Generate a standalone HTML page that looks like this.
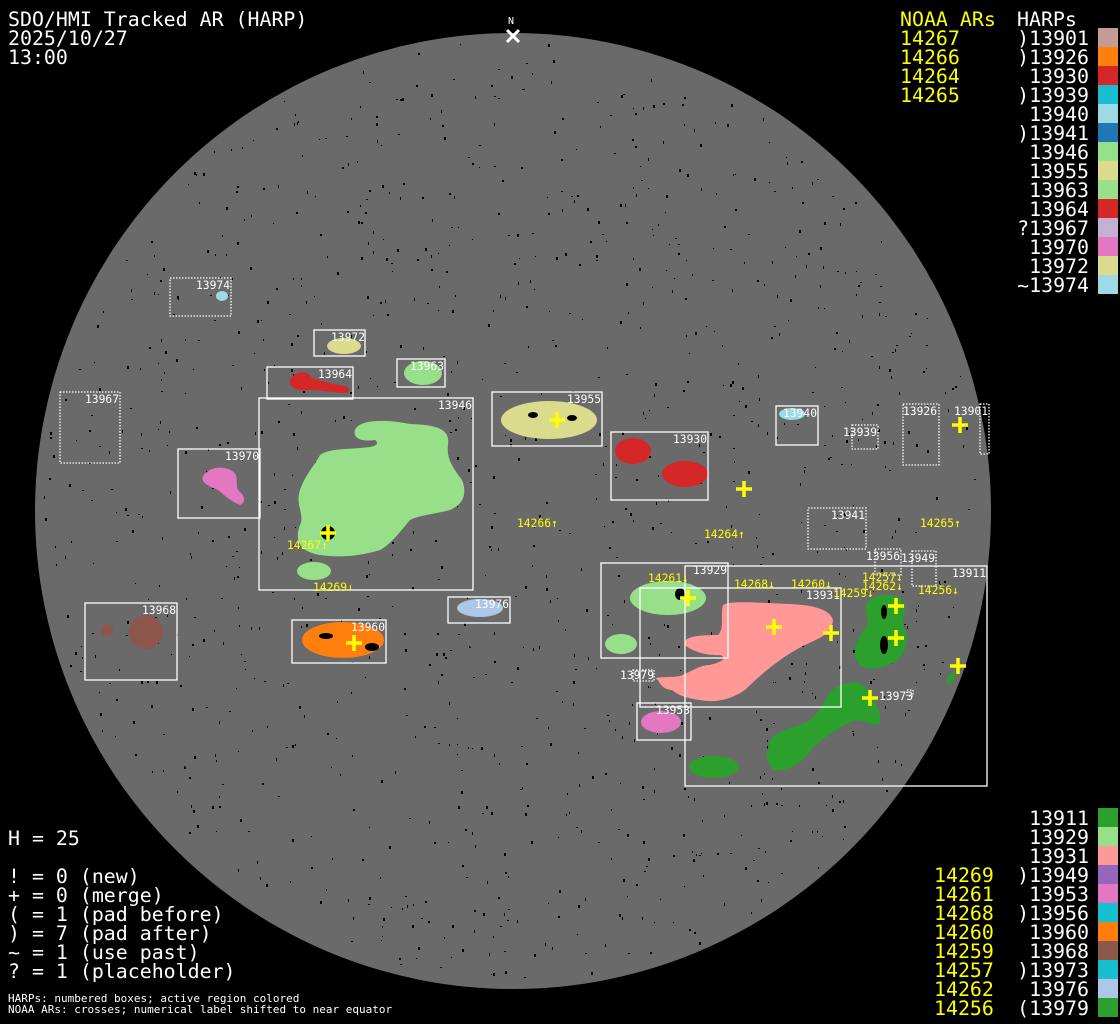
<!DOCTYPE html>
<html><head><meta charset="utf-8"><style>
html,body{margin:0;padding:0;background:#000;width:1120px;height:1024px;overflow:hidden}
svg{display:block}
.t{font-family:"DejaVu Sans Mono","Liberation Mono",monospace;font-size:19.9px;fill:#fff}
.y{fill:#ffff00}
.s{font-family:"DejaVu Sans Mono","Liberation Mono",monospace;font-size:11.3px;fill:#fff}
.sy{font-family:"DejaVu Sans Mono","Liberation Mono",monospace;font-size:11.3px;fill:#ffff00}
.b{fill:none;stroke:#fff;stroke-width:1.3}
.d{fill:none;stroke:#fff;stroke-width:1.3;stroke-dasharray:1.5 1.5}
.x{stroke:#ffff00;stroke-width:3.5;fill:none}
</style></head><body>
<svg width="1120" height="1024" xmlns="http://www.w3.org/2000/svg">
<rect width="1120" height="1024" fill="#000"/>
<circle cx="513" cy="511" r="478" fill="#6a6a6a"/>
<g id="dots" fill="#000"></g>
<ellipse cx="222" cy="296" rx="6" ry="5" fill="#9edae5"/>
<ellipse cx="344" cy="346" rx="17" ry="8" fill="#dbdb8d"/>
<path d="M290,380 C295,370 308,370 312,378 C320,380 330,384 345,386 C352,388 350,394 342,393 C330,392 320,390 310,390 C300,392 288,388 290,380Z" fill="#d62728"/>
<ellipse cx="423" cy="373" rx="19" ry="12" fill="#98df8a"/>
<path d="M355,430 C360,418 390,420 410,424 C440,425 450,430 448,445 C446,460 455,470 462,480 C468,495 462,505 450,510 C435,514 420,515 410,520 C400,532 390,545 380,550 C360,556 340,558 320,555 C300,552 294,540 300,525 C305,515 295,505 300,490 C305,475 315,465 320,455 C330,448 345,450 370,447 C375,446 380,444 375,440 C360,442 353,438 355,430Z" fill="#98df8a"/>
<ellipse cx="314" cy="571" rx="17" ry="9" fill="#98df8a"/>
<path d="M203,476 C210,465 230,465 236,475 C238,483 235,488 240,492 C246,497 245,503 240,505 C232,502 225,496 218,490 C208,486 200,482 203,476Z" fill="#e377c2"/>
<ellipse cx="549" cy="420" rx="48" ry="19" fill="#dbdb8d"/>
<ellipse cx="633" cy="451" rx="18" ry="13" fill="#d62728"/>
<ellipse cx="685" cy="474" rx="23" ry="13" fill="#d62728"/>
<ellipse cx="792" cy="414" rx="13" ry="6" fill="#9edae5"/>
<ellipse cx="107" cy="630" rx="6" ry="6" fill="#8c564b"/>
<ellipse cx="146" cy="632" rx="17" ry="17" fill="#8c564b"/>
<ellipse cx="343" cy="640" rx="41" ry="18" fill="#ff7f0e"/>
<ellipse cx="480" cy="608" rx="23" ry="9" fill="#aec7e8"/>
<ellipse cx="668" cy="598" rx="38" ry="17" fill="#98df8a"/>
<ellipse cx="621" cy="644" rx="16" ry="10" fill="#98df8a"/>
<path d="M723,605 C730,600 760,603 790,604 C815,605 830,610 833,620 C832,635 815,640 805,645 C785,655 765,670 745,690 C730,700 715,703 700,700 C685,698 678,695 672,690 C665,690 660,685 658,680 C650,676 670,678 680,676 C695,670 700,665 710,665 C722,662 728,658 720,655 C705,656 690,650 685,645 C682,636 700,635 718,635 C725,628 720,615 723,605Z" fill="#ff9896"/>
<ellipse cx="661" cy="722" rx="20" ry="11" fill="#e377c2"/>
<path d="M870,600 C880,592 900,592 905,605 C906,615 900,620 905,630 C910,640 905,655 895,662 C880,670 862,672 856,660 C852,650 858,635 868,625 C868,615 862,608 870,600Z" fill="#2ca02c"/>
<path d="M830,692 C840,682 860,678 868,690 C875,700 885,720 878,725 C865,723 860,718 850,722 C835,730 825,738 815,745 C805,760 790,772 775,770 C765,765 765,748 772,738 C782,728 798,728 810,720 C820,712 825,700 830,692Z" fill="#2ca02c"/>
<ellipse cx="714" cy="767" rx="25" ry="11" fill="#2ca02c"/>
<ellipse cx="951" cy="678" rx="3" ry="7" fill="#2ca02c" transform="rotate(30 951 678)"/>
<g fill="#000">
<circle cx="328" cy="533" r="7"/><ellipse cx="680" cy="594" rx="5" ry="6"/>
<ellipse cx="884" cy="612" rx="3" ry="7"/><ellipse cx="884" cy="645" rx="4" ry="9"/>
<ellipse cx="533" cy="415" rx="5" ry="3"/><ellipse cx="572" cy="418" rx="5" ry="3"/>
<ellipse cx="372" cy="647" rx="7" ry="4"/><ellipse cx="326" cy="636" rx="7" ry="3"/>
</g>
<rect class="d" x="170" y="278" width="61" height="38"/>
<rect class="b" x="314" y="330" width="51" height="26"/>
<rect class="b" x="267" y="367" width="86" height="32"/>
<rect class="b" x="397" y="359" width="48" height="28"/>
<rect class="b" x="259" y="398" width="214" height="192"/>
<rect class="d" x="60" y="392" width="60" height="71"/>
<rect class="b" x="178" y="449" width="82" height="69"/>
<rect class="b" x="492" y="392" width="110" height="54"/>
<rect class="b" x="611" y="432" width="97" height="68"/>
<rect class="b" x="776" y="406" width="42" height="39"/>
<rect class="d" x="852" y="425" width="26" height="24"/>
<rect class="d" x="903" y="404" width="36" height="61"/>
<rect class="d" x="980" y="404" width="9" height="50"/>
<rect class="d" x="808" y="508" width="58" height="41"/>
<rect class="d" x="875" y="549" width="26" height="26"/>
<rect class="d" x="912" y="551" width="24" height="35"/>
<rect class="b" x="685" y="566" width="302" height="220"/>
<rect class="b" x="601" y="563" width="127" height="95"/>
<rect class="b" x="640" y="588" width="201" height="119"/>
<rect class="d" x="633" y="670" width="21" height="11"/>
<rect class="b" x="637" y="703" width="54" height="37"/>
<rect class="b" x="448" y="597" width="62" height="26"/>
<rect class="b" x="292" y="620" width="94" height="43"/>
<rect class="b" x="85" y="603" width="92" height="77"/>
<rect class="d" x="907" y="690" width="6" height="6"/>
<g class="s">
<text x="196" y="289">13974</text><text x="331" y="341">13972</text><text x="318" y="378">13964</text>
<text x="410" y="370">13963</text><text x="438" y="409">13946</text><text x="85" y="403">13967</text>
<text x="225" y="460">13970</text><text x="567" y="403">13955</text><text x="673" y="443">13930</text>
<text x="783" y="417">13940</text><text x="843" y="436">13939</text><text x="903" y="415">13926</text>
<text x="954" y="415">13901</text><text x="831" y="519">13941</text><text x="866" y="560">13956</text>
<text x="901" y="562">13949</text><text x="952" y="577">13911</text><text x="693" y="574">13929</text>
<text x="806" y="599">13931</text><text x="620" y="679">13979</text><text x="656" y="714">13953</text>
<text x="475" y="608">13976</text><text x="351" y="631">13960</text><text x="142" y="614">13968</text>
<text x="879" y="700">13973</text>
</g>
<g class="sy">
<text x="287" y="549">14267↑</text><text x="313" y="591">14269↓</text><text x="517" y="527">14266↑</text>
<text x="704" y="538">14264↑</text><text x="920" y="527">14265↑</text><text x="648" y="582">14261↓</text>
<text x="734" y="588">14268↓</text><text x="791" y="588">14260↓</text><text x="833" y="597">14259↓</text>
<text x="862" y="581">14257↓</text><text x="862" y="590">14262↓</text><text x="918" y="594">14256↓</text>
</g>
<g class="x" id="cr"></g>
<text x="508" y="24" style="font-family:'DejaVu Sans Mono',monospace;font-size:10px;fill:#fff">N</text>
<path d="M507,30 L519,42 M519,30 L507,42" stroke="#fff" stroke-width="3"/>
<g class="t">
<text x="8" y="26">SDO/HMI Tracked AR (HARP)</text>
<text x="8" y="45">2025/10/27</text>
<text x="8" y="64">13:00</text>
<text x="8" y="845">H = 25</text>
<text x="8" y="883">! = 0 (new)</text>
<text x="8" y="902">+ = 0 (merge)</text>
<text x="8" y="921">( = 1 (pad before)</text>
<text x="8" y="940">) = 7 (pad after)</text>
<text x="8" y="959">~ = 1 (use past)</text>
<text x="8" y="978">? = 1 (placeholder)</text>
<text x="1017" y="26">HARPs</text>
</g>
<g style="font-family:'DejaVu Sans Mono',monospace;font-size:11px;fill:#fff">
<text x="8" y="1002">HARPs: numbered boxes; active region colored</text>
<text x="8" y="1013">NOAA ARs: crosses; numerical label shifted to near equator</text>
</g>
<g class="t y">
<text x="900" y="26">NOAA ARs</text>
<text x="900" y="45">14267</text><text x="900" y="64">14266</text><text x="900" y="83">14264</text><text x="900" y="102">14265</text>
</g>
<g class="t" id="hr" text-anchor="end"></g>
<g id="sw"></g>
</svg>
<script>
(function(){
var ns="http://www.w3.org/2000/svg";
function el(t,a,p){var e=document.createElementNS(ns,t);for(var k in a)e.setAttribute(k,a[k]);document.getElementById(p).appendChild(e);return e;}
var topRows=[[")13901","#c49c94"],[")13926","#ff7f0e"],["13930","#d62728"],[")13939","#17becf"],["13940","#9edae5"],[")13941","#1f77b4"],["13946","#98df8a"],["13955","#dbdb8d"],["13963","#98df8a"],["13964","#d62728"],["?13967","#c5b0d5"],["13970","#e377c2"],["13972","#dbdb8d"],["~13974","#9edae5"]];
topRows.forEach(function(r,i){var y=45+19*i;var t=el('text',{x:1089,y:y},'hr');t.textContent=r[0];el('rect',{x:1098,y:y-17,width:20,height:19,fill:r[1]},'sw');});
var botRows=[["13911","#2ca02c",""],["13929","#98df8a",""],["13931","#ff9896",""],[")13949","#9467bd","14269"],["13953","#e377c2","14261"],[")13956","#17becf","14268"],["13960","#ff7f0e","14260"],["13968","#8c564b","14259"],[")13973","#17becf","14257"],["13976","#aec7e8","14262"],["(13979","#2ca02c","14256"]];
botRows.forEach(function(r,i){var y=825+19*i;var t=el('text',{x:1089,y:y},'hr');t.textContent=r[0];el('rect',{x:1098,y:y-17,width:20,height:19,fill:r[1]},'sw');
if(r[2]){var u=el('text',{x:934,y:y,'class':'t y'},'sw');u.textContent=r[2];}});
[[328,533],[557,420],[744,489],[960,425],[688,598],[774,627],[831,633],[896,606],[896,638],[958,666],[870,698],[354,643]].forEach(function(c){
el('path',{d:'M'+(c[0]-8)+','+c[1]+'h16M'+c[0]+','+(c[1]-8)+'v16'},'cr');});
var s=12345;function rn(){s=(s*1103515245+12345)%2147483648;return s/2147483648;}
for(var i=0;i<1200;i++){var a=rn()*6.283,d=Math.sqrt(rn())*470;var x=513+d*Math.cos(a),y=511+d*Math.sin(a);
el('rect',{x:x.toFixed(0),y:y.toFixed(0),width:1+Math.floor(rn()*2),height:1+Math.floor(rn()*3)},'dots');}
})();
</script>
</body></html>
